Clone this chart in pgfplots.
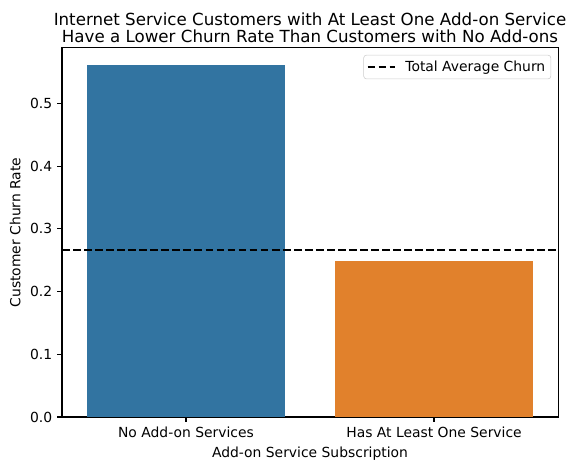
\documentclass[border=0pt]{standalone}
\usepackage{pgfplots}
\pgfplotsset{compat=1.18}
\usepackage{fontspec}
\setmainfont{DejaVu Sans}
\definecolor{sbblue}{HTML}{3274A1}
\definecolor{sborange}{HTML}{E1812C}
\begin{document}
\begin{tikzpicture}
\path[use as bounding box] (-44.6pt,-38.2pt) rectangle (369.3pt,300.2pt);
\begin{axis}[
  scale only axis,
  width=357.1pt, height=265.7pt,
  at={(0,0)}, anchor=south west,
  xmin=-0.5, xmax=1.5,
  ymin=0, ymax=0.5886,
  xtick={0,1},
  xticklabels={No Add-on Services, Has At Least One Service},
  ytick={0,0.1,0.2,0.3,0.4,0.5},
  yticklabel style={/pgf/number format/fixed, /pgf/number format/fixed zerofill, /pgf/number format/precision=1},
  /pgf/number format/assume math mode=true,
  tick label style={font=\fontsize{10}{12}\selectfont},
  tick align=outside,
  major tick length=3.5pt,
  every tick/.style={black, line width=0.8pt},
  axis line style={line width=0.8pt},
  xtick pos=bottom, ytick pos=left,
  xlabel={Add-on Service Subscription},
  ylabel={Customer Churn Rate},
  label style={font=\fontsize{10}{12}\selectfont},
  title style={font=\fontsize{12}{12.5}\selectfont, align=center, yshift=-6pt},
  title={Internet Service Customers with At Least One Add-on Service\\Have a Lower Churn Rate Than Customers with No Add-ons},
  legend style={at={(1,1)}, xshift=-5pt, yshift=-5pt, anchor=north east, draw=black!20, rounded corners=2pt, font=\fontsize{10}{12}\selectfont, inner sep=2pt,
    /tikz/every odd column/.append style={column sep=4.5pt}},
  legend image code/.code={\draw[#1] (0pt,0pt) -- (20pt,0pt);},
  legend cell align=left,
]
\addplot[ybar, bar width=0.8, bar shift=0pt, fill=sbblue, draw=none, forget plot] coordinates {(0,0.5606)};
\addplot[ybar, bar width=0.8, bar shift=0pt, fill=sborange, draw=none, forget plot] coordinates {(1,0.2482)};
\addplot[black, line width=1.5pt, dash pattern=on 5.55pt off 2.4pt] coordinates {(-0.5,0.2657) (1.5,0.2657)};
\addlegendentry{Total Average Churn}
\end{axis}
\end{tikzpicture}
\end{document}
